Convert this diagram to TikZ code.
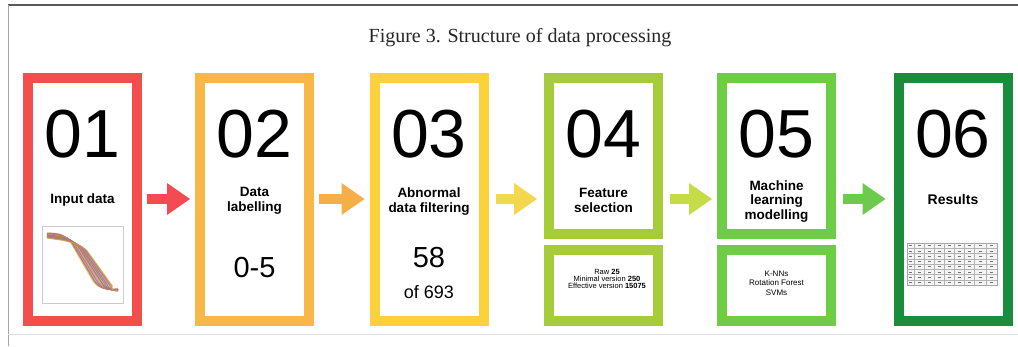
\documentclass[tikz,border=0pt]{standalone}
\usepackage{fontspec}
\setmainfont{Liberation Sans}
\newfontfamily\capfont{Liberation Serif}
\usetikzlibrary{calc,arrows.meta}

% stage colours, from warm to cool
\definecolor{sRed}{HTML}{F44D4D}
\definecolor{sOrange}{HTML}{F8B746}
\definecolor{sYellow}{HTML}{FBD23C}
\definecolor{sLime}{HTML}{A6CC3C}
\definecolor{sGreen}{HTML}{6ECD46}
\definecolor{sDark}{HTML}{1B8C3C}
% arrow colours
\definecolor{aRed}{HTML}{F44B52}
\definecolor{aOrange}{HTML}{F6AE48}
\definecolor{aYellow}{HTML}{F3D74C}
\definecolor{aLime}{HTML}{C6DC46}
\definecolor{aGreen}{HTML}{6CCB4C}
% plot colours
\definecolor{pPurple}{HTML}{7E62A8}
\definecolor{pOrange}{HTML}{E9A43A}
\definecolor{pBrown}{HTML}{A87840}
\definecolor{pPink}{HTML}{D27AA8}

\begin{document}
\begin{tikzpicture}[x=1pt,y=-1pt,
  stage/.style={draw, line width=10pt, minimum width=109pt, inner sep=0pt},
  bignum/.style={anchor=base, inner sep=0pt, font=\fontsize{68}{68}\selectfont},
  steptitle/.style={anchor=base, inner sep=0pt, align=center,
    font=\fontsize{13.5}{14.5}\selectfont\bfseries},
  stepvalue/.style={anchor=base, inner sep=0pt, font=\fontsize{29}{29}\selectfont},
  stepnote/.style={anchor=base, inner sep=0pt, align=center},
  flow/.style={line width=10pt, -{Triangle[width=32pt,length=23pt,line width=0pt]}}
]
\useasboundingbox (0,0) rectangle (1018,346);
\fill[white] (0,0) rectangle (1018,346);

% page frame
\draw[black!65, line width=1.4pt] (8,5) -- (1018,5);
\draw[black!35, line width=0.8pt] (8,5) -- (8,346);
\draw[black!12, line width=0.8pt] (8,334) -- (1018,334);

% caption
\node[anchor=base, inner sep=0pt, text=black!85, font=\capfont\fontsize{20}{20}\selectfont]
  (cap) at (520,42) {Figure 3. Structure of data processing};

% stage frames
\node[stage, draw=sRed,    minimum height=243pt] (b1) at (82.5,199.5) {};
\node[stage, draw=sOrange, minimum height=243pt] (b2) at (254.5,199.5) {};
\node[stage, draw=sYellow, minimum height=243pt] (b3) at (429,199.5) {};
\node[stage, draw=sLime,   minimum height=156pt] (b4) at (603.5,156) {};
\node[stage, draw=sLime,   minimum height=71pt]  (c4) at (603.5,285.5) {};
\node[stage, draw=sGreen,  minimum height=156pt] (b5) at (776.5,156) {};
\node[stage, draw=sGreen,  minimum height=71pt]  (c5) at (776.5,285.5) {};
\node[stage, draw=sDark,   minimum height=243pt] (b6) at (953,199.5) {};

% stage numbers
\node[bignum] (n1) at (82.5,157) {01};
\node[bignum] (n2) at (254.5,157) {02};
\node[bignum] (n3) at (429,157) {03};
\node[bignum] (n4) at (603.5,157) {04};
\node[bignum] (n5) at (776.5,157) {05};
\node[bignum] (n6) at (953,157) {06};

% stage titles (base anchor = baseline of the last line)
\node[steptitle] (t1) at (82.5,203) {Input data};
\node[steptitle] (t2) at (254.5,211) {Data\\labelling};
\node[steptitle] (t3) at (429,212) {Abnormal\\data filtering};
\node[steptitle] (t4) at (603.5,212) {Feature\\selection};
\node[steptitle] (t5) at (776.5,219) {Machine\\learning\\modelling};
\node[steptitle, font=\fontsize{14}{14}\selectfont\bfseries] (t6) at (953,204) {Results};

% stage values
\node[stepvalue] (v2) at (254.5,277) {0-5};
\node[stepvalue] (v3) at (429,267) {58};
\node[stepnote, font=\fontsize{18}{18}\selectfont] (w3) at (429,298) {of 693};
\node[stepnote, font=\fontsize{7.5}{6.8}\selectfont] (d4) at (607,288)
  {Raw \textbf{25}\\Minimal version \textbf{250}\\Effective version \textbf{15075}};
\node[stepnote, font=\fontsize{8}{9.5}\selectfont] (d5) at (776.5,295)
  {K-NNs\\Rotation Forest\\SVMs};

% flow arrows
\coordinate (row) at (0,199);
\draw[flow, aRed]    ($(b1.east |- row)+(5,0)$) -- ($(b2.west |- row)+(-5,0)$);
\draw[flow, aOrange] ($(b2.east |- row)+(5,0)$) -- ($(b3.west |- row)+(-5,0)$);
\draw[flow, aYellow] ($(b3.east |- row)+(7,0)$) -- ($(b4.west |- row)+(-7,0)$);
\draw[flow, aLime]   ($(b4.east |- row)+(7,0)$) -- ($(b5.west |- row)+(-5,0)$);
\draw[flow, aGreen]  ($(b5.east |- row)+(7,0)$) -- ($(b6.west |- row)+(-8,0)$);

% input data thumbnail: a bundle of descending curves
\node[draw=black!20, line width=0.6pt, minimum width=81pt, minimum height=77pt,
  inner sep=0pt] (thumb) at (82.5,264.5) {};
\begin{scope}
  \clip (43,227) rectangle (122,302);
  \foreach \o/\c in {0/pOrange,2/pPurple,3/pBrown,5/pOrange,6/pPurple,8/pPink,
                     9/pOrange,11/pPurple,12/pBrown,14/pOrange,15/pPurple,
                     17/pPink,18/pPurple,20/pOrange,21/pBrown,23/pPurple,24/pOrange} {
    \draw[\c, line width=1.2pt, opacity=0.7]
      (47,{233+0.2*\o}) .. controls (60,{233+0.3*\o}) and ({64+0.4*\o},{235+0.2*\o}) ..
      ({70+0.7*\o},{241+0.4*\o}) -- ({93+0.8*\o},{281+0.2*\o})
      .. controls ({99+0.6*\o},{289}) and (108,290) .. (118,{289+0.08*\o});
  }
\end{scope}

% results table thumbnail
\node[draw=black!35, line width=0.5pt, fill=black!4, minimum width=90pt,
  minimum height=42pt, inner sep=0pt] (tab) at (952,264) {};
\foreach \i in {1,...,7}
  \draw[black!30, line width=0.4pt] (907,{243+5.25*\i}) -- (997,{243+5.25*\i});
\foreach \x in {914,924,934,944,954,964,974,986}
  \draw[black!30, line width=0.4pt] (\x,243) -- (\x,285);
\foreach \i in {0,...,7}
  \foreach \x in {919,929,939,949,959,969,980,991}
    \draw[black!55, line width=0.6pt] ({\x-1.5},{245.6+5.25*\i}) -- ({\x+1.5},{245.6+5.25*\i});
\foreach \i in {0,...,7}
  \draw[black!55, line width=0.6pt] (909,{245.6+5.25*\i}) -- (912,{245.6+5.25*\i});
\end{tikzpicture}
\end{document}
